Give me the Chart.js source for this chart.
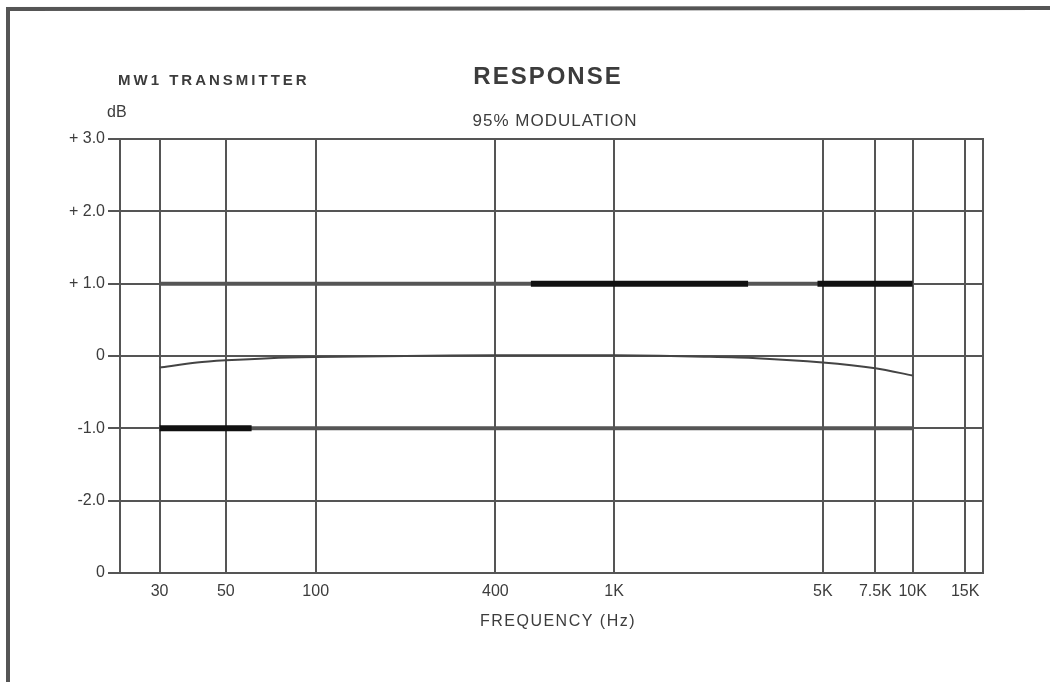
<!DOCTYPE html>
<html>
<head>
<meta charset="utf-8">
<script src="https://cdn.jsdelivr.net/npm/chart.js@4.4.0/dist/chart.umd.min.js"></script>
<style>
  html, body { margin: 0; padding: 0; background: #fff; }
  #wrap { width: 1050px; height: 682px; position: relative; }
</style>
</head>
<body>
<div id="wrap"><canvas id="myChart" width="1050" height="682"></canvas></div>
<script>
// frequency grid (Hz) and labels
const xTicks = [30, 50, 100, 400, 1000, 5000, 7500, 10000, 15000];
const xLabels = ['30', '50', '100', '400', '1K', '5K', '7.5K', '10K', '15K'];

// dB axis
const yTicks = [3, 2, 1, 0, -1, -2, -3];
const yLabels = ['+ 3.0', '+ 2.0', '+ 1.0', '0', '-1.0', '-2.0', '0'];

// measured response curve
const respFreq = [30, 40, 50, 70, 100, 200, 400, 1000, 2000, 3000, 5000, 7500, 10000];
const respDb = [-0.16, -0.09, -0.06, -0.03, -0.015, 0, 0.01, 0.01, -0.01, -0.03, -0.09, -0.17, -0.27];

// limit lines (+1 / -1 dB)
const upperFreq = [30, 10000];
const upperBoldA = [526, 2810];
const upperBoldB = [4800, 10000];
const lowerFreq = [30, 10000];
const lowerBold = [30, 61];

const pts = (xs, ys) => xs.map((x, i) => ({ x, y: ys[i] }));
const flat = (xs, v) => xs.map(x => ({ x, y: v }));

const ink = '#3c3c3c';
const FONT = '"Liberation Sans", Arial, sans-serif';

const line = (data, color, width) => ({
    data,
    borderColor: color,
    backgroundColor: color,
    borderWidth: width,
    pointRadius: 0,
    showLine: true,
    tension: 0.3,
    borderCapStyle: 'butt'
});

// text + frame around the chart
const decor = {
    id: 'decor',
    afterDraw(chart) {
        const c = chart.ctx;
        const a = chart.chartArea;
        c.save();
        c.strokeStyle = '#555';
        c.lineWidth = 2;
        c.strokeRect(a.left, a.top, a.right - a.left, a.bottom - a.top);

        // outer frame
        c.lineWidth = 4;
        c.beginPath();
        c.moveTo(8, 682);
        c.lineTo(8, 9);
        c.lineTo(1050, 8);
        c.stroke();

        c.fillStyle = ink;
        c.textBaseline = 'middle';
        const txt = (s, x, y, font, spacing, align) => {
            c.font = font;
            c.letterSpacing = spacing;
            c.textAlign = align;
            c.fillText(s, x, y);
        };
        txt('MW1 TRANSMITTER', 118, 81, 'bold 15px ' + FONT, '3px', 'left');
        txt('RESPONSE', 548, 77, 'bold 24px ' + FONT, '2px', 'center');
        txt('dB', 107, 113, '16px ' + FONT, '0px', 'left');
        txt('95% MODULATION', 555, 121, '17px ' + FONT, '1px', 'center');
        txt('FREQUENCY (Hz)', 558, 622, '16px ' + FONT, '1.5px', 'center');
        c.restore();
    }
};

const ctx = document.getElementById('myChart').getContext('2d');

// first dataset is drawn on top
const config = {
    type: 'scatter',
    data: {
        datasets: [
            line(pts(respFreq, respDb), '#444', 2),
            line(flat(upperBoldA, 1), '#111', 6),
            line(flat(upperBoldB, 1), '#111', 6),
            line(flat(lowerBold, -1), '#111', 6),
            line(flat(upperFreq, 1), '#555', 4),
            line(flat(lowerFreq, -1), '#555', 4)
        ]
    },
    options: {
        responsive: false,
        animation: false,
        layout: { padding: { top: 139, right: 67, left: 0, bottom: 0 } },
        plugins: {
            legend: { display: false },
            tooltip: { enabled: false }
        },
        scales: {
            x: {
                type: 'logarithmic',
                min: 22.1,
                max: 17210,
                afterBuildTicks: scale => {
                    scale.ticks = xTicks.map(v => ({ value: v }));
                },
                afterFit: scale => { scale.height = 109; },
                grid: { color: '#555', lineWidth: 2, drawTicks: false },
                border: { display: true, color: '#555', width: 2 },
                ticks: {
                    padding: 9,
                    color: ink,
                    maxRotation: 0,
                    autoSkip: false,
                    font: { family: FONT, size: 16 },
                    callback: value => xLabels[xTicks.indexOf(value)] ?? ''
                }
            },
            y: {
                min: -3,
                max: 3,
                afterBuildTicks: scale => {
                    scale.ticks = yTicks.map(v => ({ value: v }));
                },
                afterFit: scale => { scale.width = 120; },
                grid: { color: '#555', lineWidth: 2, tickLength: 12 },
                border: { display: true, color: '#555', width: 2 },
                ticks: {
                    padding: 3,
                    color: ink,
                    font: { family: FONT, size: 16 },
                    callback: value => yLabels[yTicks.indexOf(value)] ?? ''
                }
            }
        }
    },
    plugins: [decor]
};

const myChart = new Chart(ctx, config);
</script>
</body>
</html>
